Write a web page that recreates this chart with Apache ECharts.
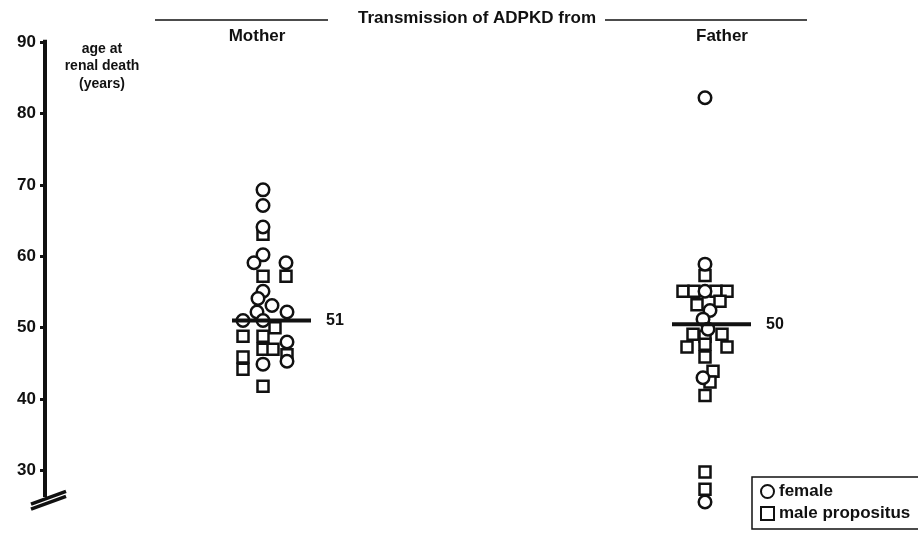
<!DOCTYPE html>
<html>
<head>
<meta charset="utf-8">
<script src="https://cdn.jsdelivr.net/npm/echarts@6/dist/echarts.min.js"></script>
<style>html,body{margin:0;padding:0;background:#fff;}#c{width:918px;height:542px;}</style>
</head>
<body>
<div id="c"></div>
<script>
// ---- data ----
var groups = ['Mother', 'Father'];
var groupCenters = [265, 705];           // x position of each group's main column
var groupMeans = [51, 50.5];
var meanLabels = ['51', '50'];
var yTicks = [30, 40, 50, 60, 70, 80, 90];

// [x offset from group column, age at renal death]
var motherFemale = [[-2,69.3],[-2,67.1],[-2,64.1],[-2,60.2],[-11,59.1],[21,59.1],[-2,55.1],[-7,54.1],
  [7,53.1],[-8,52.2],[22,52.2],[-22,51],[-2,51],[22,48],[22,45.3],[-2,44.9]];
var motherMale = [[-2,63.1],[-2,57.2],[21,57.2],[10,50],[-22,48.8],[-2,48.8],[-2,47],[8,47],
  [22,46.2],[-22,45.9],[-22,44.2],[-2,41.8]];
var fatherFemale = [[0,82.2],[0,58.9],[0,55.1],[5,52.4],[-2,51.2],[3,49.8],[-2,43],[0,25.6]];
var fatherMale = [[0,57.3],[-22,55.1],[-11,55.1],[11,55.1],[22,55.1],[-8,53.2],[15,53.7],[-12,49.1],
  [17,49.1],[0,48.8],[-18,47.3],[22,47.3],[0,47.7],[0,45.9],[8,43.9],[5,42.4],[0,40.5],[0,29.8],[0,27.4]];

function place(arr, gi) { return arr.map(function (d) { return [groupCenters[gi] + d[0], d[1]]; }); }
var femaleData = place(motherFemale, 0).concat(place(fatherFemale, 1));
var maleData = place(motherMale, 0).concat(place(fatherMale, 1));

var FONT = '"Liberation Sans", Arial, sans-serif';
var INK = '#111';
var AXIS_X = 45;

var chart = echarts.init(document.getElementById('c'), null, {renderer: 'canvas'});

var meanSeries = groups.map(function (g, i) {
  return {
    type: 'line', name: 'mean ' + g, silent: true, clip: false, z: 5,
    symbol: 'none',
    lineStyle: {color: INK, width: 4},
    data: [[groupCenters[i] - 33, groupMeans[i]], [groupCenters[i] + 46, groupMeans[i]]],
    endLabel: {show: true, formatter: meanLabels[i], distance: 15, color: INK,
      fontFamily: FONT, fontWeight: 'bold', fontSize: 16}
  };
});

var option = {
  backgroundColor: '#fff',
  animation: false,
  textStyle: {fontFamily: FONT},
  grid: {left: 0, right: 0, top: 42, height: 501, containLabel: false},
  xAxis: {type: 'value', min: 0, max: 918, show: false},
  yAxis: {
    type: 'value', min: 20, max: 90, interval: 10,
    position: 'left', offset: -AXIS_X,
    axisLine: {show: false},
    splitLine: {show: false},
    axisTick: {show: true, length: 5, customValues: yTicks, lineStyle: {color: INK, width: 3}},
    axisLabel: {color: INK, fontFamily: FONT, fontWeight: 'bold', fontSize: 17, margin: 9,
      customValues: yTicks}
  },
  title: [
    {text: 'Transmission of ADPKD from', left: 472, top: 5, textAlign: 'center',
      textStyle: {fontFamily: FONT, fontWeight: 'bold', fontSize: 17, color: INK}},
    {text: 'Mother', left: 252, top: 23, textAlign: 'center',
      textStyle: {fontFamily: FONT, fontWeight: 'bold', fontSize: 17, color: INK}},
    {text: 'Father', left: 717, top: 23, textAlign: 'center',
      textStyle: {fontFamily: FONT, fontWeight: 'bold', fontSize: 17, color: INK}},
    {text: 'age at\nrenal death\n(years)', left: 97, top: 35, textAlign: 'center',
      textStyle: {fontFamily: FONT, fontWeight: 'bold', fontSize: 14, color: INK, lineHeight: 17.5}}
  ],
  legend: {
    orient: 'vertical', left: 752, top: 477,
    itemWidth: 13, itemHeight: 13, itemGap: 5,
    padding: [6, 30, 7, 8],
    borderColor: INK, borderWidth: 1.5, borderRadius: 0,
    textStyle: {fontFamily: FONT, fontWeight: 'bold', fontSize: 17, color: INK},
    data: ['female', 'male propositus']
  },
  graphic: [
    {type: 'line', shape: {x1: 155, y1: 20, x2: 328, y2: 20}, style: {stroke: INK, lineWidth: 1.5}},
    {type: 'line', shape: {x1: 605, y1: 20, x2: 807, y2: 20}, style: {stroke: INK, lineWidth: 1.5}}
  ],
  series: [
    {
      type: 'scatter', name: 'male propositus', z: 3,
      symbol: 'rect', symbolSize: 11,
      itemStyle: {color: '#fff', borderColor: INK, borderWidth: 2.5, opacity: 1},
      data: maleData
    },
    {
      type: 'scatter', name: 'female', z: 4,
      symbol: 'circle', symbolSize: 12.5,
      itemStyle: {color: '#fff', borderColor: INK, borderWidth: 2.5, opacity: 1},
      data: femaleData
    },
    // visible y-axis line (ends above the break) and break marks
    {type: 'line', name: 'axis', silent: true, clip: false, symbol: 'none', z: 6,
      lineStyle: {color: INK, width: 4}, data: [[AXIS_X, 90.3], [AXIS_X, 26.3]]},
    {type: 'line', name: 'break1', silent: true, clip: false, symbol: 'none', z: 6,
      lineStyle: {color: INK, width: 3.5}, data: [[31, 25.3], [66, 27.1]]},
    {type: 'line', name: 'break2', silent: true, clip: false, symbol: 'none', z: 6,
      lineStyle: {color: INK, width: 3.5}, data: [[31, 24.6], [66, 26.4]]}
  ].concat(meanSeries)
};
chart.setOption(option);
</script>
</body>
</html>
